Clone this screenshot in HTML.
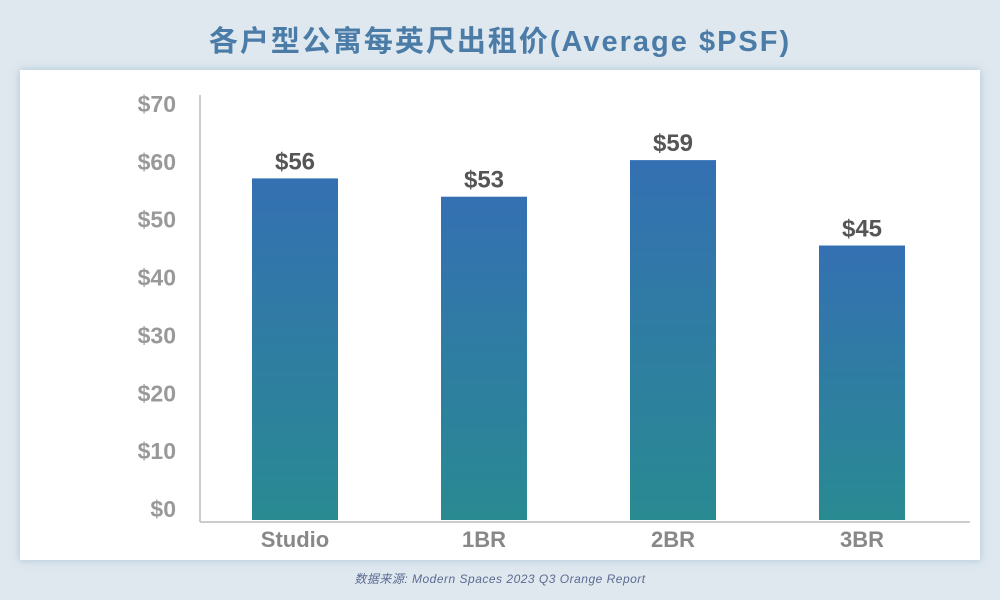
<!DOCTYPE html>
<html><head><meta charset="utf-8">
<style>
body{margin:0;width:1000px;height:600px;background:#dfe8ef;font-family:"Liberation Sans","Noto Sans CJK SC",sans-serif;overflow:hidden;position:relative}
#title{position:absolute;top:18px;left:0;width:1000px;text-align:center;font-size:29px;font-weight:bold;color:#4b7ca8;letter-spacing:2px}
#card{position:absolute;left:20px;top:70px;width:960px;height:490px;background:#fff;box-shadow:0 0 8px rgba(120,160,190,0.5)}
#src{position:absolute;top:570px;left:0;width:1000px;text-align:center;font-size:12px;font-style:italic;color:#5b6a92;letter-spacing:0.5px}
svg{position:absolute;left:0;top:0}
</style></head>
<body>
<div id="title">各户型公寓每英尺出租价(Average $PSF)</div>
<div id="card"></div>
<svg id="chart" width="1000" height="600">
<defs><linearGradient id="g" x1="0" y1="0" x2="0" y2="1"><stop offset="0" stop-color="#3470b2"/><stop offset="1" stop-color="#298a92"/></linearGradient></defs>
</svg>
<div id="src">数据来源: Modern Spaces 2023 Q3 Orange Report</div>
<script>
const categories=["Studio","1BR","2BR","3BR"];
const values=[56,53,59,45];
const valueLabels=["$56","$53","$59","$45"];
const tickValues=[0,10,20,30,40,50,60,70];
const tickLabels=["$0","$10","$20","$30","$40","$50","$60","$70"];
const svg=document.getElementById('chart');
const NS="http://www.w3.org/2000/svg";
const base=520;
function yBar(v){return base-v*6.1;}
function yTick(v){return 509-v*5.786;}
function xC(i){return 295+i*189;}
function mk(t,a,txt){const e=document.createElementNS(NS,t);for(const k in a)e.setAttribute(k,a[k]);if(txt!==undefined)e.textContent=txt;svg.appendChild(e);return e;}
let ax=mk('line',{x1:200,y1:95,x2:200,y2:522,stroke:'#bbb','stroke-width':1.5});


let bx=mk('line',{x1:200,y1:522,x2:970,y2:522,stroke:'#bbb','stroke-width':1.5});


tickValues.forEach((v,i)=>{
 const t=mk('text',{x:176,y:yTick(v)+8,'text-anchor':'end','font-size':23,'font-weight':'bold',fill:'#999'},tickLabels[i]);
 
 
});
categories.forEach((c,i)=>{
 const y=yBar(values[i]);
 const r=mk('rect',{x:xC(i)-43,y:y,width:86,height:base-y,fill:'url(#g)'});
 
 
 const l=mk('text',{x:xC(i),y:y-9,'text-anchor':'middle','font-size':24,'font-weight':'bold',fill:'#555'},valueLabels[i]);
 
 
 const cl=mk('text',{x:xC(i),y:547,'text-anchor':'middle','font-size':22,'font-weight':'bold',fill:'#888'},c);
 
 
});
</script>
</body></html>
